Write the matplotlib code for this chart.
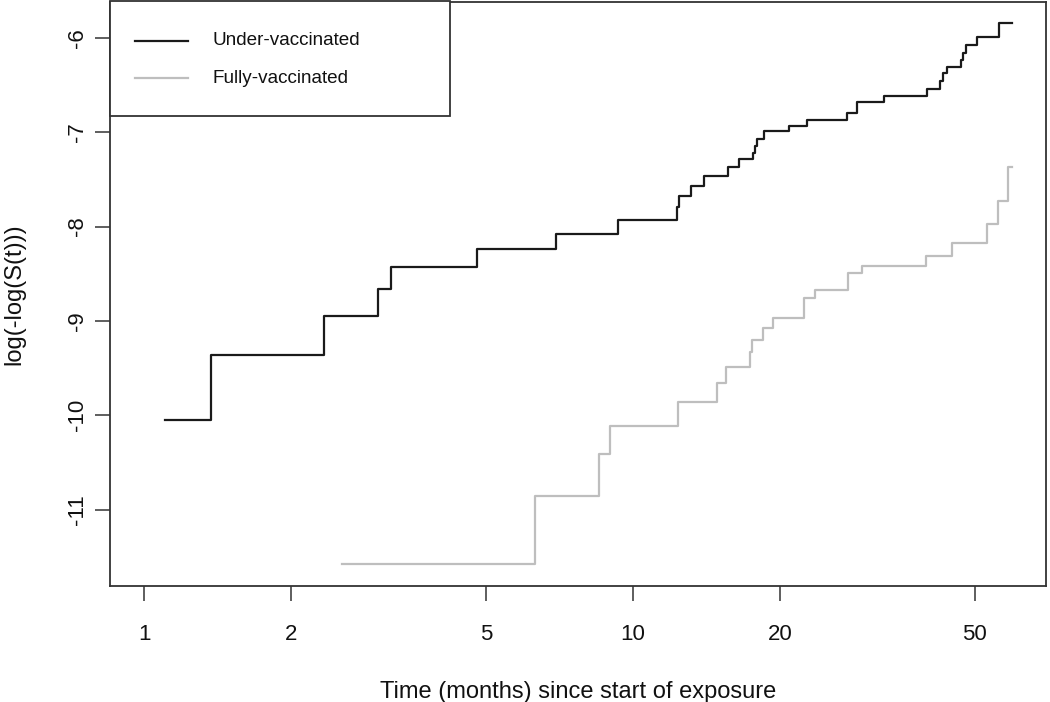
import matplotlib
matplotlib.use("Agg")
import matplotlib.pyplot as plt
from matplotlib.ticker import FixedLocator, NullLocator, FixedFormatter
from matplotlib.patches import Rectangle
from matplotlib.lines import Line2D

plt.rcParams['font.family'] = ['Liberation Sans', 'DejaVu Sans']

# Under-vaccinated: step times (months) and log(-log(S(t))) values
under_t = [1.104, 1.369, 2.337, 3.006, 3.205, 4.805, 6.969, 9.305, 12.29, 12.42,
           13.16, 13.99, 15.64, 16.45, 17.60, 17.75, 17.95, 18.51, 20.82, 22.66,
           27.35, 28.68, 32.61, 39.98, 42.45, 43.12, 43.81, 46.86, 47.23, 47.97,
           50.52, 55.97, 59.68]
under_v = [-10.051, -9.362, -8.951, -8.658, -8.425, -8.234, -8.082, -7.926, -7.789, -7.672,
           -7.566, -7.467, -7.371, -7.283, -7.216, -7.142, -7.071, -6.989, -6.930, -6.866,
           -6.799, -6.676, -6.615, -6.538, -6.453, -6.374, -6.311, -6.233, -6.156, -6.074,
           -5.986, -5.844, -5.844]

# Fully-vaccinated
full_t = [2.544, 6.295, 8.533, 8.985, 12.38, 14.88, 15.50, 17.38, 17.49, 18.42,
          19.31, 22.40, 23.56, 27.56, 29.36, 39.68, 44.98, 52.89, 55.85, 58.56, 59.50]
full_v = [-11.575, -10.854, -10.415, -10.111, -9.863, -9.655, -9.486, -9.330, -9.202, -9.078,
          -8.966, -8.760, -8.672, -8.495, -8.418, -8.309, -8.177, -7.972, -7.725, -7.371, -7.371]

x_ticks = [1, 2, 5, 10, 20, 50]
x_tick_labels = ["1", "2", "5", "10", "20", "50"]
y_ticks = [-6, -7, -8, -9, -10, -11]
y_tick_labels = ["-6", "-7", "-8", "-9", "-10", "-11"]
series_labels = ["Under-vaccinated", "Fully-vaccinated"]
series_colors = ['#1a1a1a', '#bebebe']

W, H = 1050, 702
fig = plt.figure(figsize=(W / 100, H / 100), dpi=100)
ax_left, ax_right, ax_top, ax_bottom = 110, 1046, 1.5, 586
ax = fig.add_axes([ax_left / W, (H - ax_bottom) / H,
                   (ax_right - ax_left) / W, (ax_bottom - ax_top) / H])

ax.step(under_t, under_v, where='post', color=series_colors[0], lw=1.6)
ax.step(full_t, full_v, where='post', color=series_colors[1], lw=1.6)

ax.set_xscale('log')
ax.set_xlim(0.852, 69.9)
ax.set_ylim(-11.811, -5.613)

ax.xaxis.set_major_locator(FixedLocator(x_ticks))
ax.xaxis.set_major_formatter(FixedFormatter(x_tick_labels))
ax.xaxis.set_minor_locator(NullLocator())
ax.set_yticks(y_ticks)
ax.set_yticklabels(y_tick_labels, rotation=90, va='center')

for s in ax.spines.values():
    s.set_linewidth(1.3)
    s.set_color('#333333')

ax.tick_params(axis='both', direction='out', length=11, width=1.1, color='#333333',
               labelsize=16, labelcolor='#111111')
ax.tick_params(axis='x', pad=16)
ax.tick_params(axis='y', pad=5)

ax.set_xlabel("Time (months) since start of exposure", fontsize=17, labelpad=26, color='#111111')
ax.set_ylabel("log(-log(S(t)))", fontsize=17, labelpad=30, color='#111111')

# Legend drawn in figure pixel coordinates (top-left box like R's legend)
def fx(px):
    return px / W

def fy(py):
    return (H - py) / H

fig.patches.append(Rectangle((fx(110), fy(116)), fx(450) - fx(110), fy(1.5) - fy(116),
                             transform=fig.transFigure, fill=True, facecolor='white',
                             edgecolor='#333333', lw=1.3, zorder=5))
for i, (lab, col) in enumerate(zip(series_labels, series_colors)):
    yy = [40.7, 78.3][i]
    fig.lines.append(Line2D([fx(135), fx(188)], [fy(yy), fy(yy)], transform=fig.transFigure,
                            color=col, lw=1.6, zorder=6))
    fig.text(fx(213), fy(yy), lab, fontsize=13.6, va='center', ha='left',
             color='#111111', zorder=6)

fig.savefig("out.png", dpi=100)
